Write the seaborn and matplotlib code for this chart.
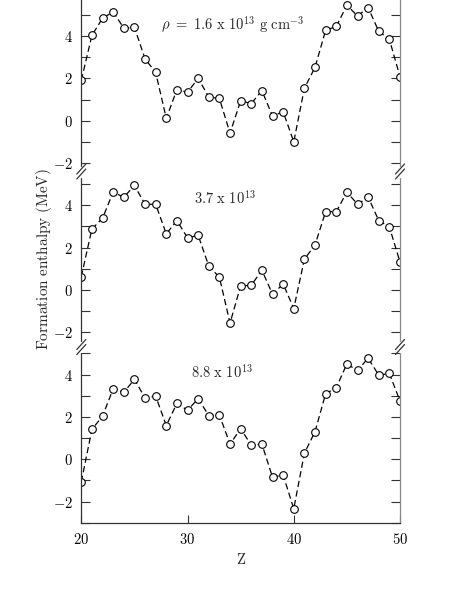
import numpy as np
import pandas as pd
import seaborn as sns
import matplotlib
matplotlib.use("Agg")
import matplotlib.pyplot as plt
from matplotlib.lines import Line2D

Z = list(range(20, 51))
h_16 = [1.91, 4.03, 4.84, 5.14, 4.37, 4.41, 2.92, 2.28, 0.11, 1.47, 1.34, 2.00, 1.12, 1.05,
        -0.59, 0.94, 0.81, 1.42, 0.22, 0.42, -1.00, 1.53, 2.52, 4.27, 4.45, 5.45, 4.95, 5.34,
        4.22, 3.84, 2.08]
h_37 = [0.63, 2.88, 3.39, 4.63, 4.38, 4.94, 4.05, 4.05, 2.65, 3.28, 2.46, 2.58, 1.13, 0.60,
        -1.57, 0.19, 0.22, 0.93, -0.20, 0.28, -0.88, 1.45, 2.13, 3.70, 3.70, 4.63, 4.05, 4.39,
        3.28, 2.98, 1.32]
h_88 = [-1.07, 1.41, 2.03, 3.33, 3.16, 3.77, 2.89, 2.98, 1.59, 2.64, 2.31, 2.86, 2.06, 2.09,
        0.71, 1.44, 0.66, 0.71, -0.85, -0.75, -2.34, 0.28, 1.30, 3.09, 3.38, 4.50, 4.19, 4.77,
        3.97, 4.05, 2.75]
labels = [r'$\rho\,\,=\,\,1.6\ \mathrm{x}\ 10^{13}\ \mathrm{g\ cm}^{-3}$',
          r'$3.7\ \mathrm{x}\ 10^{13}$',
          r'$8.8\ \mathrm{x}\ 10^{13}$']
xticks = [20, 30, 40, 50]

sns.set_style("ticks")
plt.rcParams['mathtext.fontset'] = 'cm'
plt.rcParams['font.family'] = ['DejaVu Serif']

W, H = 458, 592
fig = plt.figure(figsize=(W / 100, H / 100), dpi=100)

left, right = 81.3 / W, 400 / W
j1 = 1 - 171.5 / H
j2 = 1 - 347 / H
bot = 1 - 522.7 / H
panels = [
    (j1, 1.0, h_16, (-2.4, 5.7), labels[0], 233, 25),
    (j2, j1, h_37, (-2.7, 5.6), labels[1], 225, 198),
    (bot, j2, h_88, (-3.0, 5.3), labels[2], 222, 372),
]
axes = []
for i, (b, t, vals, ylim, lab, tx, ty) in enumerate(panels):
    ax = fig.add_axes([left, b, right - left, t - b])
    df = pd.DataFrame({"Z": Z, "H": vals})
    sns.lineplot(data=df, x="Z", y="H", ax=ax, color="black", linewidth=0.9,
                 marker="o", markersize=5.5, markerfacecolor="white",
                 markeredgecolor="black", markeredgewidth=0.8)
    ax.lines[-1].set_linestyle((0, (5, 2.8)))
    ax.set_xlim(20, 50)
    ax.set_ylim(*ylim)
    yt = list(range(int(np.ceil(ylim[0])), int(np.floor(ylim[1])) + 1))
    ax.set_yticks(yt)
    ax.set_yticklabels([(r'$%d$' % v if v % 2 == 0 else '') for v in yt], fontsize=10.5)
    ax.tick_params(axis='y', direction='in', length=6.5, width=0.8, pad=6,
                   right=True, colors='#333333', labelcolor='black')
    ax.set_xticks(xticks)
    ax.set_xlabel('')
    ax.set_ylabel('')
    if i < 2:
        ax.tick_params(axis='x', bottom=False, labelbottom=False)
        ax.spines['bottom'].set_visible(False)
    else:
        ax.set_xticklabels([r'$%d$' % v for v in xticks], fontsize=10.5)
        ax.tick_params(axis='x', direction='in', length=6, width=0.8, pad=7,
                       colors='#333333', labelcolor='black')
        ax.set_xlabel(r'$\mathrm{Z}$', fontsize=10.5, labelpad=3)
    ax.spines['top'].set_visible(False)
    ax.spines['right'].set_visible(True)
    ax.spines['left'].set_color('#333333')
    ax.spines['right'].set_color('#888888')
    ax.spines['bottom'].set_color('#333333')
    for s in ax.spines.values():
        s.set_linewidth(0.9)
    ax.text(tx / W, 1 - ty / H, lab, transform=fig.transFigure, ha='center',
            va='center', fontsize=10.5)
    axes.append(ax)

axes[1].set_ylabel(r'$\mathrm{Formation\ enthalpy\ (MeV)}$', fontsize=11)
axes[1].yaxis.set_label_coords((54.5 - 81.3) / (400 - 81.3), 0.5)

# break marks at junctions
for jy in (j1, j2):
    for xs in (left, right):
        dx = 4.5 / W
        dy = 5 / H
        gap = 4 / H
        fig.add_artist(Line2D([xs, xs], [jy - gap, jy + gap], transform=fig.transFigure,
                              color='white', linewidth=2.5, zorder=10))
        for off in (-gap / 1.6, gap / 1.6):
            fig.add_artist(Line2D([xs - dx, xs + dx], [jy + off - dy, jy + off + dy],
                                  transform=fig.transFigure, color='#333333',
                                  linewidth=0.9, zorder=11))

fig.savefig("out.png", dpi=100)
